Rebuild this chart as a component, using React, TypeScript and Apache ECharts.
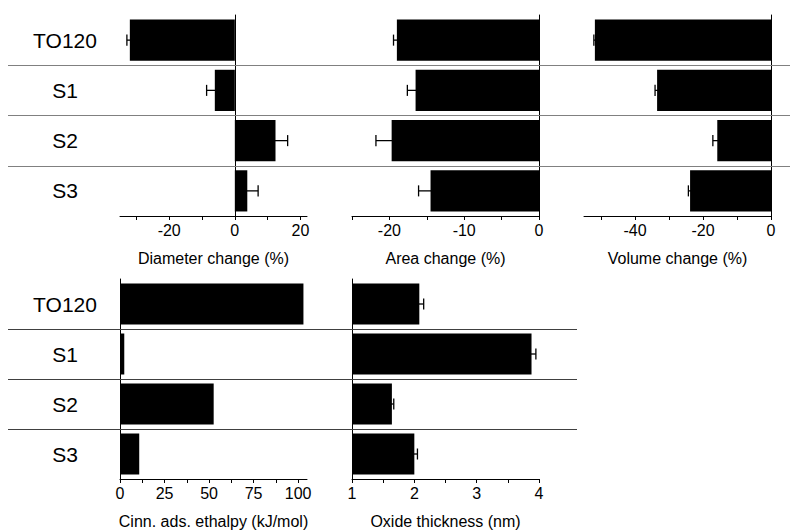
import React, { useEffect, useRef } from "react";
import * as echarts from "echarts";

const categories = ["TO120", "S1", "S2", "S3"];

const diameterValues = [-32.0, -6.1, 12.4, 3.8];
const diameterErrors = [0.9, 2.5, 3.7, 3.3];
const areaValues = [-19.0, -16.5, -19.7, -14.5];
const areaErrors = [0.45, 1.1, 2.1, 1.6];
const volumeValues = [-51.8, -33.5, -15.8, -23.8];
const volumeErrors = [0.3, 0.6, 1.3, 0.5];
const enthalpyValues = [103, 2.4, 52.6, 10.8];
const oxideValues = [2.08, 3.88, 1.64, 2.0];
const oxideErrors = [0.07, 0.07, 0.03, 0.05];

const diameterLabels = [-20, 0, 20];
const diameterTicks = [-30, -20, -10, 0, 10, 20];
const areaLabels = [-20, -10, 0];
const areaTicks = [-25, -20, -15, -10, -5, 0];
const volumeLabels = [-40, -20, 0];
const volumeTicks = [-50, -40, -30, -20, -10, 0];
const enthalpyLabels = [0, 25, 50, 75, 100];
const enthalpyTicks = [0, 12.5, 25, 37.5, 50, 62.5, 75, 87.5, 100];
const oxideLabels = [1, 2, 3, 4];
const oxideTicks = [1, 1.5, 2, 2.5, 3, 3.5, 4];

const rowBoundaries = [1, 2, 3];

const FONT = "'Liberation Sans', Arial, sans-serif";

type Panel = {
  name: string;
  values: number[];
  errors: number[] | null;
  min: number;
  max: number;
  labels: number[];
  ticks: number[];
  rect: { left: number; top: number; width: number; height: number };
};

const TOP = { top: 15, height: 201 };
const BOT = { top: 279, height: 200 };

const panels: Panel[] = [
  { name: "Diameter change (%)", values: diameterValues, errors: diameterErrors, min: -35, max: 22, labels: diameterLabels, ticks: diameterTicks, rect: { left: 120, width: 187, ...TOP } },
  { name: "Area change (%)", values: areaValues, errors: areaErrors, min: -25, max: 0, labels: areaLabels, ticks: areaTicks, rect: { left: 352, width: 187, ...TOP } },
  { name: "Volume change (%)", values: volumeValues, errors: volumeErrors, min: -55, max: 0, labels: volumeLabels, ticks: volumeTicks, rect: { left: 584, width: 187, ...TOP } },
  { name: "Cinn. ads. ethalpy (kJ/mol)", values: enthalpyValues, errors: null, min: 0, max: 105, labels: enthalpyLabels, ticks: enthalpyTicks, rect: { left: 120, width: 187, ...BOT } },
  { name: "Oxide thickness (nm)", values: oxideValues, errors: oxideErrors, min: 1, max: 4, labels: oxideLabels, ticks: oxideTicks, rect: { left: 352, width: 187, ...BOT } },
];

function buildOption() {
  const grid: any[] = [];
  const xAxis: any[] = [];
  const yAxis: any[] = [];
  const series: any[] = [];

  panels.forEach((p, i) => {
    grid.push({ ...p.rect });
    xAxis.push({
      type: "value",
      gridIndex: i,
      min: p.min,
      max: p.max,
      position: "bottom",
      axisLine: { show: true, onZero: false, lineStyle: { color: "#000", width: 1 } },
      axisTick: { show: true, customValues: p.ticks, length: 4, lineStyle: { color: "#000", width: 1 } },
      axisLabel: { show: true, customValues: p.labels, fontSize: 16, color: "#000", fontFamily: FONT, margin: 6 },
      splitLine: { show: false },
      name: p.name,
      nameLocation: "middle",
      nameGap: 34,
      nameTextStyle: { fontSize: 16, color: "#000", fontFamily: FONT },
    });
    yAxis.push({
      type: "category",
      gridIndex: i,
      data: categories,
      inverse: true,
      axisLine: { show: true, onZero: true, lineStyle: { color: "#000", width: 1 } },
      axisTick: { show: false },
      axisLabel: { show: false },
      splitLine: { show: false },
    });
    series.push({
      type: "bar",
      xAxisIndex: i,
      yAxisIndex: i,
      data: p.values,
      barWidth: "82%",
      itemStyle: { color: "#000" },
      clip: true,
      silent: true,
      z: 2,
    });
    if (p.errors) {
      const errs = p.errors;
      series.push({
        type: "custom",
        xAxisIndex: i,
        yAxisIndex: i,
        encode: { x: [1, 2], y: 0 },
        data: p.values.map((v, k) => [k, v - errs[k], v + errs[k]]),
        z: 3,
        silent: true,
        renderItem: (params: any, api: any) => {
          const c = api.value(0);
          const lo = api.coord([api.value(1), c]);
          const hi = api.coord([api.value(2), c]);
          const h = api.size([0, 1])[1] * 0.11;
          const style = { stroke: "#000", lineWidth: 1.3 };
          return {
            type: "group",
            children: [
              { type: "line", shape: { x1: lo[0], y1: lo[1], x2: hi[0], y2: hi[1] }, style },
              { type: "line", shape: { x1: lo[0], y1: lo[1] - h, x2: lo[0], y2: lo[1] + h }, style },
              { type: "line", shape: { x1: hi[0], y1: hi[1] - h, x2: hi[0], y2: hi[1] + h }, style },
            ],
          };
        },
      });
    }
  });

  // Separator overlays
  const sepDefs = [
    { rect: { left: 8, width: 782, ...TOP }, color: "#808080" },
    { rect: { left: 8, width: 569, ...BOT }, color: "#404040" },
  ];
  sepDefs.forEach((s) => {
    const gi = grid.length;
    grid.push({ ...s.rect });
    xAxis.push({ type: "value", gridIndex: gi, min: 0, max: 1, show: false });
    yAxis.push({ type: "value", gridIndex: gi, min: 0, max: categories.length, inverse: true, show: false });
    series.push({
      type: "line",
      xAxisIndex: gi,
      yAxisIndex: gi,
      data: [],
      silent: true,
      z: 1,
      markLine: {
        silent: true,
        symbol: ["none", "none"],
        label: { show: false },
        lineStyle: { color: s.color, width: 1, type: "solid" },
        emphasis: { disabled: true },
        data: rowBoundaries.map((b) => ({ yAxis: b })),
      },
    });
  });

  // Category label frames
  [TOP, BOT].forEach((r) => {
    const gi = grid.length;
    grid.push({ left: 120, width: 100, ...r });
    xAxis.push({ type: "value", gridIndex: gi, min: 0, max: 1, show: false });
    yAxis.push({
      type: "category",
      gridIndex: gi,
      data: categories,
      inverse: true,
      axisLine: { show: false },
      axisTick: { show: false },
      splitLine: { show: false },
      axisLabel: { show: true, fontSize: 21, color: "#000", fontFamily: FONT, align: "center", margin: 55 },
    });
    series.push({
      type: "bar",
      xAxisIndex: gi,
      yAxisIndex: gi,
      data: categories.map(() => null),
      silent: true,
    });
  });

  return {
    animation: false,
    backgroundColor: "#fff",
    textStyle: { fontFamily: FONT },
    grid,
    xAxis,
    yAxis,
    series,
  };
}

export default function App() {
  const ref = useRef<HTMLDivElement>(null);
  useEffect(() => {
    if (!ref.current) return;
    const chart = echarts.init(ref.current, null, { renderer: "svg" });
    chart.setOption(buildOption() as any);
    return () => chart.dispose();
  }, []);
  return (
    <div
      ref={ref}
      style={{ position: "fixed", left: 0, top: 0, width: 790, height: 530, background: "#fff" }}
    />
  );
}
